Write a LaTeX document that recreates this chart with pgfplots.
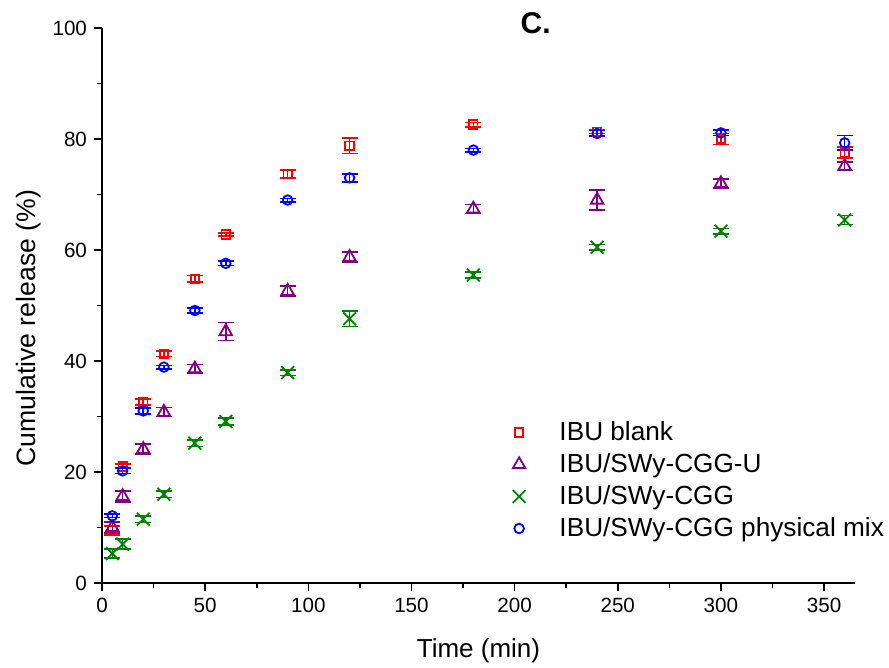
\documentclass[border=0pt]{standalone}
\usepackage{pgfplots}
\pgfplotsset{compat=1.18}
\usepackage{pgfplotstable}
\usepackage{fontspec}
\setmainfont{Liberation Sans}
\definecolor{cred}{RGB}{255,0,0}
\definecolor{cpur}{RGB}{128,0,128}
\definecolor{cgrn}{RGB}{0,128,0}
\definecolor{cblu}{RGB}{0,0,255}
\pgfplotstableread{
x y e
5 9.5 0.8
10 21.0 0.4
20 32.6 0.5
30 41.3 0.5
45 54.8 0.6
60 62.8 0.3
90 73.7 0.7
120 78.8 1.4
180 82.6 0.4
240 81.3 0.3
300 80.0 1.0
360 77.6 1.0
}\tblank
\pgfplotstableread{
x y e
5 10.0 1.0
10 15.6 1.0
20 24.1 0.9
30 30.8 0.8
45 38.6 0.8
60 45.3 1.6
90 52.6 0.9
120 58.7 0.9
180 67.4 0.8
240 69.0 1.8
300 72.0 0.8
360 75.1 0.8
}\tcggu
\pgfplotstableread{
x y e
5 5.3 0.8
10 7.0 0.9
20 11.5 0.6
30 16.0 0.6
45 25.2 0.6
60 29.1 0.6
90 37.9 0.5
120 47.6 1.4
180 55.5 0.5
240 60.5 0.5
300 63.4 0.5
360 65.4 0.8
}\tcgg
\pgfplotstableread{
x y e
5 12.1 0.3
10 20.2 0.5
20 31.0 0.5
30 38.9 0.3
45 49.1 0.5
60 57.6 0.4
90 69.0 0.3
120 73.0 0.7
180 78.0 0.3
240 81.0 0.5
300 81.1 0.5
360 79.3 1.3
}\tmix
\begin{document}
\begin{tikzpicture}
\useasboundingbox (-51pt,-42.5pt) rectangle (393.5pt,291.5pt);
\begin{axis}[
  at={(0,0)}, anchor=south west,
  scale only axis, width=376.5pt, height=277.5pt,
  xmin=0, xmax=365, ymin=0, ymax=100,
  clip=false,
  axis lines*=left,
  axis line style={line width=1pt},
  xtick={0,50,...,350}, ytick={0,20,...,100},
  minor xtick={25,75,...,325}, minor ytick={10,30,...,90},
  tick align=outside,
  major tick length=4pt, minor tick length=2.5pt,
  tick style={line width=0.8pt, black},
  tick label style={font=\fontsize{10.3}{12}\selectfont},
  /pgf/number format/assume math mode=true,
  xlabel={Time (min)}, ylabel={Cumulative release (\%)},
  every axis x label/.style={at={(axis description cs:0.5,-0.122)},anchor=center,font=\fontsize{13}{15}\selectfont},
  every axis y label/.style={at={(axis description cs:-0.0969,0.459)},rotate=90,anchor=center,font=\fontsize{13.3}{15}\selectfont},
  legend style={draw=none, fill=none, at={(rel axis cs:0.537,0.306)}, anchor=north west, font=\fontsize{13.1}{15}\selectfont, row sep=1.0pt, column sep=15pt},
  legend cell align=left,
  error bars/y dir=both, error bars/y explicit,
  error bars/error mark options={rotate=90, mark size=4pt, line width=0.8pt},
  error bars/error bar style={line width=0.8pt},
]
\addplot[only marks, color=cred, mark=square, mark size=2.1pt, line width=0.9pt] table[x=x,y=y,y error=e]{\tblank};
\addlegendentry{IBU blank}
\addplot[only marks, color=cpur, mark=triangle, mark size=3.6pt, line width=0.9pt] table[x=x,y=y,y error=e]{\tcggu};
\addlegendentry{IBU/SWy-CGG-U}
\addplot[only marks, color=cgrn, mark=x, mark size=4.5pt, line width=0.9pt] table[x=x,y=y,y error=e]{\tcgg};
\addlegendentry{IBU/SWy-CGG}
\addplot[only marks, color=cblu, mark=o, mark size=2.4pt, line width=0.9pt] table[x=x,y=y,y error=e]{\tmix};
\addlegendentry{IBU/SWy-CGG physical mix}
\node[font=\fontsize{15}{17}\selectfont\bfseries] at (rel axis cs:0.576,1.008) {C.};
\end{axis}
\end{tikzpicture}
\end{document}
